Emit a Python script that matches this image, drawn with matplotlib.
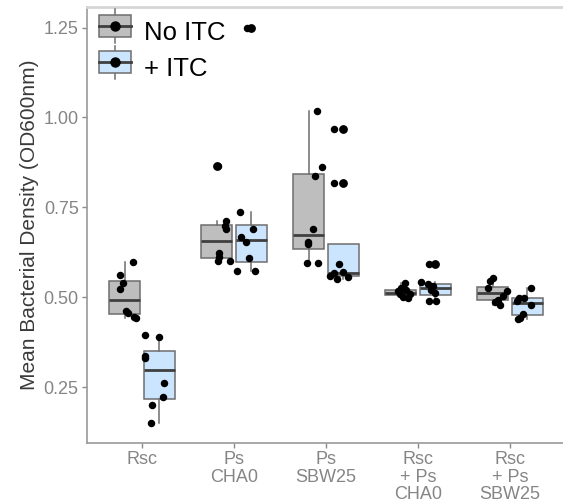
import matplotlib
matplotlib.use("Agg")
import matplotlib.pyplot as plt
from matplotlib.legend_handler import HandlerBase
from matplotlib.patches import Rectangle, Patch
from matplotlib.lines import Line2D

plt.rcParams['font.family'] = ['Liberation Sans', 'DejaVu Sans']

groups = ["Rsc", "Ps\nCHA0", "Ps\nSBW25", "Rsc\n+ Ps\nCHA0", "Rsc\n+ Ps\nSBW25"]
treatments = ["No ITC", "+ ITC"]

# OD600 readings per group
no_itc = [
    [0.597, 0.562, 0.541, 0.523, 0.462, 0.456, 0.446, 0.442],
    [0.865, 0.712, 0.698, 0.690, 0.622, 0.611, 0.601, 0.601],
    [1.017, 0.863, 0.837, 0.690, 0.654, 0.648, 0.596, 0.596],
    [0.539, 0.525, 0.517, 0.520, 0.508, 0.502, 0.497, 0.508],
    [0.554, 0.545, 0.525, 0.517, 0.505, 0.493, 0.479, 0.488],
]
with_itc = [
    [0.395, 0.389, 0.337, 0.332, 0.263, 0.224, 0.201, 0.150],
    [1.250, 0.736, 0.689, 0.667, 0.653, 0.608, 0.573, 0.574],
    [0.967, 0.817, 0.592, 0.571, 0.567, 0.557, 0.550, 0.559],
    [0.594, 0.542, 0.536, 0.532, 0.520, 0.511, 0.490, 0.490],
    [0.525, 0.499, 0.497, 0.490, 0.478, 0.455, 0.443, 0.440],
]
# horizontal jitter of each dot, as seen in the picture (offset from group centre)
jit_no = [
    [-0.098, -0.236, -0.211, -0.236, -0.180, -0.157, -0.091, -0.065],
    [-0.177, -0.083, -0.100, -0.090, -0.163, -0.163, -0.170, -0.047],
    [-0.101, -0.043, -0.120, -0.138, -0.199, -0.192, -0.207, -0.090],
    [-0.145, -0.180, -0.217, -0.126, -0.090, -0.163, -0.109, -0.191],
    [-0.182, -0.217, -0.242, -0.036, -0.073, -0.127, -0.109, -0.163],
]
jit_itc = [
    [0.036, 0.180, 0.036, 0.028, 0.235, 0.224, 0.109, 0.101],
    [0.140, 0.065, 0.211, 0.073, 0.135, 0.157, 0.037, 0.225],
    [0.090, 0.084, 0.145, 0.180, 0.087, 0.236, 0.120, 0.047],
    [0.120, 0.037, 0.109, 0.163, 0.146, 0.182, 0.120, 0.192],
    [0.228, 0.101, 0.152, 0.073, 0.228, 0.145, 0.109, 0.090],
]

fills = ["#BEBEBE", "#CCE5FF"]
edge = "#6E6E6E"
med_col = "#3F3F3F"
dodge = 0.1875
bw = 0.3375

fig = plt.figure(figsize=(5.63, 5.04), dpi=100)
ax = fig.add_axes([87 / 563, 1 - 442.7 / 504, 478 / 563, 435.7 / 504])

for k, (data, jit) in enumerate([(no_itc, jit_no), (with_itc, jit_itc)]):
    pos = [i + (2 * k - 1) * dodge for i in range(len(groups))]
    ax.boxplot(data, positions=pos, widths=bw, patch_artist=True,
               showcaps=False, whis=1.5, manage_ticks=False,
               boxprops=dict(facecolor=fills[k], edgecolor=edge, linewidth=1.1),
               whiskerprops=dict(color=edge, linewidth=1.1),
               medianprops=dict(color=med_col, linewidth=2),
               flierprops=dict(marker='o', markerfacecolor='black',
                               markeredgecolor='black', markersize=5.3),
               zorder=2)
    for i, vals in enumerate(data):
        ax.scatter([i + j for j in jit[i]], vals, s=29, color='black',
                   zorder=3, linewidths=0)

ax.set_xlim(-0.6, 4.6)
ax.set_ylim(0.096, 1.307)
ax.set_xticks(range(len(groups)))
ax.set_xticklabels(groups, linespacing=1.05)
ax.set_yticks([0.25, 0.50, 0.75, 1.00, 1.25])
ax.set_yticklabels(["0.25", "0.50", "0.75", "1.00", "1.25"])
ax.tick_params(colors="#8A8A8A", labelcolor="#858585", labelsize=13,
               length=3.5, width=1, pad=2.5)
ax.set_ylabel("Mean Bacterial Density (OD600nm)", fontsize=15,
              color="#3A3A3A", labelpad=3)

for s in ['left', 'bottom']:
    ax.spines[s].set_color("#9A9A9A")
    ax.spines[s].set_linewidth(1.2)
ax.spines['top'].set_color("#D6D6D6")
ax.spines['top'].set_linewidth(2)
ax.spines['right'].set_visible(False)


class BoxKey(HandlerBase):
    def create_artists(self, legend, orig, xd, yd, w, h, fontsize, trans):
        fc = orig.get_facecolor()
        cx = xd + w / 2
        cy = yd + h / 2
        bh = h * 0.95
        box = Rectangle((xd, cy - bh / 2), w, bh, facecolor=fc,
                        edgecolor=edge, linewidth=1.1, transform=trans)
        wh = Line2D([cx, cx], [cy - h * 0.72, cy + h * 0.72], color=edge,
                    linewidth=1.1, transform=trans)
        md = Line2D([xd, xd + w], [cy, cy], color=med_col, linewidth=2,
                    transform=trans)
        dot = Line2D([cx], [cy], marker='o', color='black', markersize=6.5,
                     transform=trans)
        return [wh, box, md, dot]


handles = [Patch(facecolor=f) for f in fills]
ax.legend(handles, treatments, handler_map={Patch: BoxKey()},
          loc='upper left', bbox_to_anchor=(0.0, 0.997), frameon=False,
          fontsize=18.5, handlelength=1.25, handleheight=1.0,
          handletextpad=0.5, labelspacing=0.42, borderaxespad=0.05)

fig.savefig("out.png", dpi=100)
